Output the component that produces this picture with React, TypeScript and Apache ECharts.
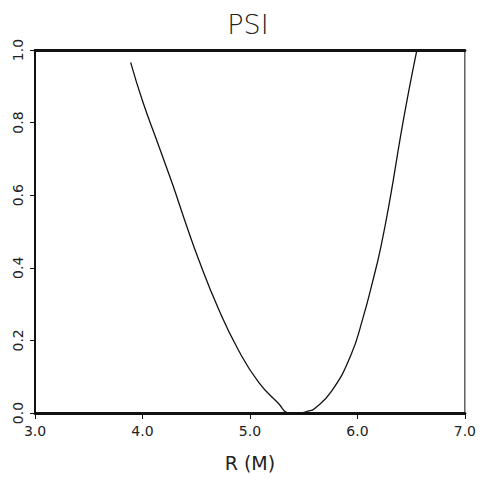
import React, { useEffect, useRef } from "react";
import * as echarts from "echarts";

const rValues = [3.89, 4.0, 4.14, 4.28, 4.4, 4.52, 4.71, 4.89, 5.08, 5.26, 5.37, 5.45, 5.54, 5.6, 5.76, 5.94, 6.05, 6.14, 6.22, 6.31, 6.4, 6.48, 6.55];
const psiValues = [0.966, 0.86, 0.745, 0.63, 0.525, 0.425, 0.285, 0.175, 0.085, 0.028, 0.0, 0.0, 0.005, 0.012, 0.06, 0.16, 0.26, 0.36, 0.46, 0.6, 0.76, 0.89, 0.995];

const titleText = "PSI";
const xAxisName = "R (M)";

export default function App() {
  const ref = useRef<HTMLDivElement>(null);
  useEffect(() => {
    if (!ref.current) return;
    const chart = echarts.init(ref.current, undefined, { renderer: "svg" });
    const font = "DejaVu Sans";
    chart.setOption({
      animation: false,
      backgroundColor: "#fff",
      title: {
        text: titleText,
        left: 235,
        top: -2,
        textAlign: "center",
        textStyle: { fontFamily: font, fontSize: 27, fontWeight: "lighter", color: "#222" },
      },
      grid: { left: 27, right: 11, top: 42, bottom: 54, show: true, borderColor: "#111", borderWidth: 1, backgroundColor: "transparent" },
      xAxis: [
        {
          type: "value",
          min: 3,
          max: 7,
          interval: 1,
          name: xAxisName,
          nameLocation: "middle",
          nameGap: 40,
          nameTextStyle: { fontFamily: font, fontSize: 19, color: "#222" },
          axisLine: { show: true, onZero: false, lineStyle: { color: "#111", width: 3 } },
          axisTick: { show: true, length: 6, lineStyle: { color: "#111", width: 1 } },
          axisLabel: { fontFamily: font, fontSize: 14, color: "#222", margin: 11, formatter: (v: number) => v.toFixed(1) },
          splitLine: { show: false },
        },
        {
          type: "value",
          position: "top",
          min: 3,
          max: 7,
          interval: 1,
          axisLine: { show: true, onZero: false, lineStyle: { color: "#111", width: 3 } },
          axisTick: { show: false },
          axisLabel: { show: false },
          splitLine: { show: false },
        },
      ],
      yAxis: {
        type: "value",
        min: 0,
        max: 1,
        interval: 0.2,
        axisLine: { show: true, onZero: false, lineStyle: { color: "#111", width: 2 } },
        axisTick: { show: true, length: 5, lineStyle: { color: "#111", width: 1 } },
        axisLabel: { fontFamily: font, fontSize: 14, color: "#222", rotate: 90, margin: 10, formatter: (v: number) => v.toFixed(1) },
        splitLine: { show: false },
      },
      series: [
        {
          type: "line",
          data: rValues.map((r, i) => [r, psiValues[i]]),
          smooth: 0.5,
          showSymbol: false,
          lineStyle: { color: "#111", width: 1.3 },
        },
      ],
    });
    return () => chart.dispose();
  }, []);
  return <div ref={ref} style={{ width: 471, height: 469 }} />;
}
